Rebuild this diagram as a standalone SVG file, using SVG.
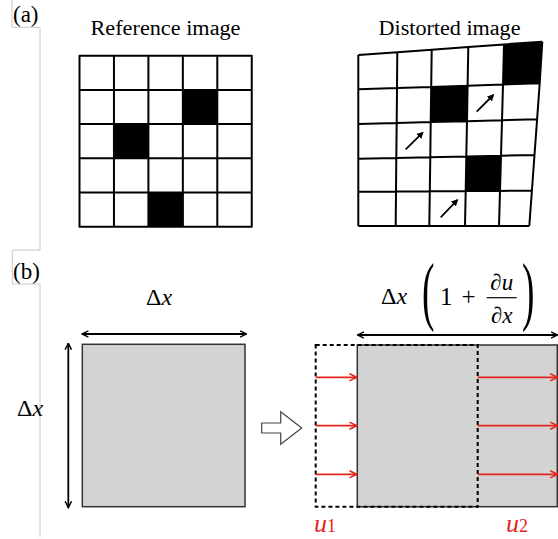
<svg xmlns="http://www.w3.org/2000/svg" width="558" height="539" viewBox="0 0 558 539">
<style>
.t{font-family:"Liberation Serif","DejaVu Serif","Times New Roman",serif;fill:#000}
.it{font-style:italic}
.red{fill:#e3261c}
.grid{fill:none;stroke:#000;stroke-width:2;stroke-linejoin:round}
.blk{fill:#000}
.box{fill:#d3d3d3;stroke:#333;stroke-width:1.5}
.dash{fill:none;stroke:#000;stroke-width:2;stroke-dasharray:4 3}
.dim{stroke:#000;stroke-width:1.8;fill:none}
.rarr{stroke:#e3261c;stroke-width:1.8;fill:none}
.sarr{stroke:#000;stroke-width:1.8;fill:none}
</style>
<defs>
<marker id="ah" viewBox="0 0 10 10" refX="9" refY="5" markerWidth="8" markerHeight="8" markerUnits="userSpaceOnUse" orient="auto-start-reverse"><path d="M1,1 L9,5 L1,9" fill="none" stroke="#000" stroke-width="1.8"/></marker>
<marker id="ahr" viewBox="0 0 10 10" refX="9" refY="5" markerWidth="9" markerHeight="9" markerUnits="userSpaceOnUse" orient="auto"><path d="M1,1 L9,5 L1,9" fill="none" stroke="#e3261c" stroke-width="1.8"/></marker>
<marker id="ahs" viewBox="0 0 10 10" refX="8" refY="5" markerWidth="7" markerHeight="7" markerUnits="userSpaceOnUse" orient="auto"><path d="M0,0 L10,5 L0,10 z" fill="#000"/></marker>
</defs>
<rect width="558" height="539" fill="#fff"/>

<g id="frame">
<path d="M12,0 V27.3 H40 V250 H12.3 V284 H40 V537" fill="none" stroke="#c8c8c8" stroke-width="1"/>
</g>

<g id="label-a"><text class="t" x="13" y="21.5" font-size="23">(a)</text></g>
<g id="label-b"><text class="t" x="13" y="279" font-size="23">(b)</text></g>

<g id="reference-image">
<text class="t" x="165.5" y="35" font-size="20" text-anchor="middle" textLength="150" lengthAdjust="spacingAndGlyphs">Reference image</text>
<rect class="blk" x="183" y="89.9" width="34.45" height="34.2"/>
<rect class="blk" x="114.4" y="124.1" width="34.45" height="34.2"/>
<rect class="blk" x="148.85" y="192.5" width="34.45" height="34.2"/>
<path class="grid" d="M79.5,55.7 H251.75 V226.7 H79.5 Z M113.95,55.7 V226.7 M148.4,55.7 V226.7 M182.85,55.7 V226.7 M217.3,55.7 V226.7 M79.5,89.9 H251.75 M79.5,124.1 H251.75 M79.5,158.3 H251.75 M79.5,192.5 H251.75"/>
</g>

<g id="distorted-image">
<text class="t" x="449.5" y="35" font-size="20" text-anchor="middle" textLength="142" lengthAdjust="spacingAndGlyphs">Distorted image</text>
<polygon class="blk" points="504,44.4 542.3,41.7 539.7,83.3 503,84.5"/>
<polygon class="blk" points="431.2,86.9 467.6,85.7 467.0,121.2 430.7,122.1"/>
<polygon class="blk" points="466.3,156.5 501,155.7 500,190.9 465.7,191.1"/>
<path class="grid" d="M358.3,55 L397.3,52.2 L431.7,49.7 L468.3,47.0 L504,44.4 L542.3,41.7
M358.3,89.3 L397.0,88.0 L431.2,86.9 L467.6,85.7 L503,84.5 L539.7,83.3
M358.3,124 L396.7,123.0 L430.7,122.1 L467.0,121.2 L502,120.2 L537.1,119.3
M358.3,158.7 L396.3,157.9 L430.3,157.2 L466.3,156.5 L501,155.7 L534.5,155
M358.3,191.7 L396.0,191.5 L429.8,191.3 L465.7,191.1 L500,190.9 L531.9,190.7
M358.3,226 L529.3,226
M358.3,55 L358.3,226
M397.3,52.2 L397.0,88.0 L396.7,123.0 L396.3,157.9 L396.0,191.5 L395.7,226
M431.7,49.7 L431.2,86.9 L430.7,122.1 L430.3,157.2 L429.8,191.3 L429.3,226
M468.3,47.0 L467.6,85.7 L467.0,121.2 L466.3,156.5 L465.7,191.1 L465,226
M504,44.4 L503,84.5 L502,120.2 L501,155.7 L500,190.9 L499,226
M542.3,41.7 L539.7,83.3 L537.1,119.3 L534.5,155 L531.9,190.7 L529.3,226"/>
</g>

<g id="original-element">
<rect class="box" x="82.3" y="344.3" width="162.7" height="162.4"/>
<text class="t" x="146" y="305" font-size="24">Δ<tspan class="it">x</tspan></text>
<text class="t" x="17" y="416" font-size="24">Δ<tspan class="it">x</tspan></text>
</g>

<g id="transition-arrow">
<polygon points="261.7,423 280.7,423 280.7,411.7 301.7,428 280.7,444.3 280.7,433 261.7,433" fill="#fff" stroke="#444" stroke-width="1.2" stroke-linejoin="miter"/>
</g>

<g id="deformed-element">
<rect class="box" x="357.3" y="345" width="200" height="161.7"/>
<rect class="dash" x="315.7" y="345" width="162" height="161.7"/>
<text class="t" x="381" y="304" font-size="24">Δ<tspan class="it">x</tspan></text>
<text class="t" font-size="44" transform="translate(422,316) scale(0.85,1.75)">(</text>
<text class="t" x="440" y="305" font-size="25">1</text>
<text class="t" x="468.5" y="305" font-size="25" text-anchor="middle">+</text>
<text class="t" x="501.7" y="290" font-size="23" text-anchor="middle">∂<tspan class="it">u</tspan></text>
<line x1="486.7" y1="297.7" x2="516.7" y2="297.7" stroke="#000" stroke-width="1.2"/>
<text class="t" x="501.7" y="323" font-size="23" text-anchor="middle">∂<tspan class="it">x</tspan></text>
<text class="t" font-size="44" transform="translate(522,316) scale(0.85,1.75)">)</text>
<text class="t red" x="314" y="532" font-size="26"><tspan class="it">u</tspan><tspan font-size="18">1</tspan></text>
<text class="t red" x="506" y="532" font-size="26"><tspan class="it">u</tspan><tspan font-size="18">2</tspan></text>
</g>

<g id="connectors">
<line class="dim" x1="82" y1="334" x2="246.5" y2="334" marker-start="url(#ah)" marker-end="url(#ah)"/>
<line class="dim" x1="68.3" y1="343.3" x2="68.3" y2="507.7" marker-start="url(#ah)" marker-end="url(#ah)"/>
<line class="dim" x1="357.5" y1="335" x2="557.5" y2="335" marker-start="url(#ah)" marker-end="url(#ah)"/>
<line class="rarr" x1="315.7" y1="377.3" x2="356.7" y2="377.3" marker-end="url(#ahr)"/>
<line class="rarr" x1="315.7" y1="425.7" x2="356.7" y2="425.7" marker-end="url(#ahr)"/>
<line class="rarr" x1="315.7" y1="474.3" x2="356.7" y2="474.3" marker-end="url(#ahr)"/>
<line class="rarr" x1="477.7" y1="377.3" x2="557.5" y2="377.3" marker-end="url(#ahr)"/>
<line class="rarr" x1="477.7" y1="425.7" x2="557.5" y2="425.7" marker-end="url(#ahr)"/>
<line class="rarr" x1="477.7" y1="474.3" x2="557.5" y2="474.3" marker-end="url(#ahr)"/>
<line class="sarr" x1="476.7" y1="111.7" x2="493.3" y2="95" marker-end="url(#ahs)"/>
<line class="sarr" x1="405.7" y1="149.3" x2="422.7" y2="132.7" marker-end="url(#ahs)"/>
<line class="sarr" x1="440.7" y1="217.3" x2="457.3" y2="200" marker-end="url(#ahs)"/>
</g>
</svg>
